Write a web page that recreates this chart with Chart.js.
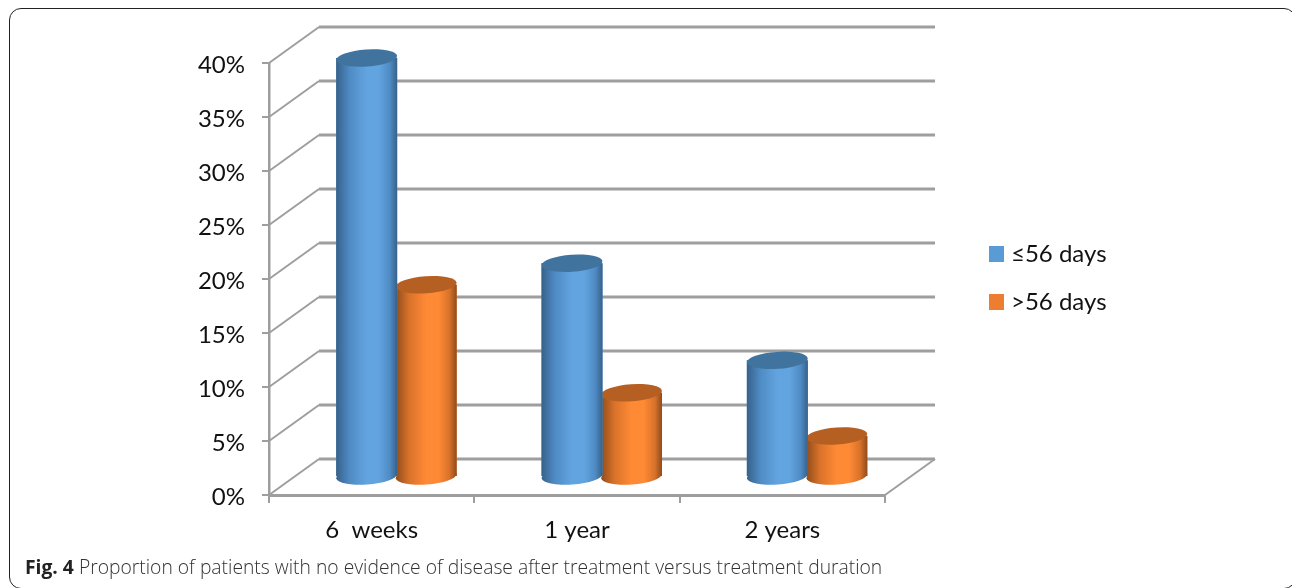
<!DOCTYPE html>
<html lang="en">
<head>
<meta charset="UTF-8">
<title>Fig. 4</title>
<script src="https://cdn.jsdelivr.net/npm/chart.js"></script>
<style>
    html, body { margin: 0; padding: 0; background: #fff; overflow: hidden; }
    #wrap { position: relative; width: 1292px; height: 588px; overflow: hidden; }
    #frame { position: absolute; left: 9px; top: 8px; width: 1287px; height: 581px; border: 1.5px solid #222; border-radius: 12px; box-sizing: border-box; }
    #caption { position: absolute; left: 25px; top: 553px; font: 300 19.3px "Open Sans", sans-serif; color: #333; white-space: nowrap; }
    #caption b { font-weight: 700; color: #222; }
    .legend-item { position: absolute; left: 989px; font: 24px Lato, sans-serif; color: #111; white-space: nowrap; }
    .legend-item i { position: absolute; left: 0; top: 8px; width: 15px; height: 16px; }
    .legend-item span { position: absolute; left: 22px; top: 0; line-height: 30px; }
    canvas { position: absolute; left: 0; top: 0; }
</style>
</head>
<body>
<div id="wrap">
    <canvas id="chart" width="1292" height="588"></canvas>
    <div id="frame"></div>
    <div id="legend"></div>
    <div id="caption"><b>Fig. 4</b> Proportion of patients with no evidence of disease after treatment versus treatment duration</div>
</div>
<script>
    const categories = ['6  weeks', '1 year', '2 years'];
    const shortCourse = [38.8, 19.8, 10.8];
    const longCourse = [17.8, 7.8, 3.8];
    const seriesNames = ['≤56 days', '>56 days'];
    const swatchColors = ['#5b9bd5', '#ed7d31'];
    // dark edge, mid ramp, highlight, cap colour for each series
    const shades = [
        ['#37618a', '#4f8bc4', '#62a4e0', '#41739f'],
        ['#8f4c1c', '#d9722a', '#ff8a35', '#b55f22']
    ];

    const gridColor = '#9e9e9e';
    const depthX = 50, depthY = -36;
    // the orange bars sit a little into the blue ones
    const barShift = [25.5, 24];

    // the 3D look: back wall, floor and side wall lines taken from the scales
    const wallPlugin = {
        id: 'walls',
        beforeDatasetsDraw(chart) {
            const ctx = chart.ctx;
            const { x: xs, y: ys } = chart.scales;
            ctx.save();
            ctx.strokeStyle = gridColor;
            ys.ticks.forEach(t => {
                const y = ys.getPixelForValue(t.value);
                ctx.lineWidth = 2;
                ctx.beginPath();
                ctx.moveTo(xs.left, y);
                ctx.lineTo(xs.left + depthX, y + depthY);
                ctx.stroke();
                ctx.lineWidth = 3;
                ctx.beginPath();
                ctx.moveTo(xs.left + depthX, y + depthY);
                ctx.lineTo(xs.right + depthX, y + depthY);
                ctx.stroke();
            });
            const y0 = ys.getPixelForValue(0);
            ctx.lineWidth = 2;
            ctx.beginPath();
            ctx.moveTo(xs.right, y0);
            ctx.lineTo(xs.right + depthX, y0 + depthY);
            ctx.stroke();
            ctx.restore();
        }
    };

    const cylinderPlugin = {
        id: 'cylinders',
        beforeDatasetDraw(chart, args) {
            chart.ctx.save();
            chart.ctx.translate(barShift[args.index], depthY / 2);
        },
        afterDatasetDraw(chart, args) {
            const ctx = chart.ctx;
            const s = shades[args.index];
            args.meta.data.forEach(bar => {
                const p = bar.getProps(['x', 'y', 'base', 'width']);
                const rx = p.width / 2, ry = 8.5, tilt = -0.07;
                const left = p.x - rx, right = p.x + rx;
                const g = ctx.createLinearGradient(left, 0, right, 0);
                g.addColorStop(0, s[0]);
                g.addColorStop(0.22, s[1]);
                g.addColorStop(0.5, s[2]);
                g.addColorStop(0.7, s[2]);
                g.addColorStop(0.88, s[1]);
                g.addColorStop(1, s[0]);
                ctx.fillStyle = g;
                ctx.fillRect(left, p.y, p.width, p.base - p.y);
                ctx.beginPath();
                ctx.ellipse(p.x, p.base, rx, ry, tilt, 0, Math.PI * 2);
                ctx.fill();
                ctx.fillStyle = s[3];
                ctx.beginPath();
                ctx.ellipse(p.x, p.y, rx, ry, tilt, 0, Math.PI * 2);
                ctx.fill();
            });
            ctx.restore();
        }
    };

    new Chart(document.getElementById('chart'), {
        type: 'bar',
        data: {
            labels: categories,
            datasets: [
                { label: seriesNames[0], data: shortCourse, backgroundColor: swatchColors[0] },
                { label: seriesNames[1], data: longCourse, backgroundColor: swatchColors[1] }
            ]
        },
        options: {
            responsive: false,
            animation: false,
            events: [],
            barPercentage: 1,
            categoryPercentage: 0.594,
            layout: { padding: { left: 0, top: 63, right: 407, bottom: 33 } },
            plugins: { legend: { display: false }, tooltip: { enabled: false } },
            scales: {
                x: {
                    afterFit: s => { s.height = 60; },
                    grid: { drawOnChartArea: false, color: gridColor, lineWidth: 2, tickLength: 8 },
                    border: { color: gridColor, width: 3 },
                    ticks: { color: '#111', font: { family: 'Lato', size: 24 }, padding: 13 }
                },
                y: {
                    min: 0,
                    max: 40,
                    afterFit: s => { s.width = 269; },
                    grid: { drawOnChartArea: false, color: gridColor, lineWidth: 2, tickLength: 7 },
                    border: { color: gridColor, width: 2.5 },
                    ticks: {
                        stepSize: 5,
                        color: '#111',
                        font: { family: 'Lato', size: 24 },
                        padding: 17,
                        labelOffset: 2,
                        callback: v => v + '%'
                    }
                }
            }
        },
        plugins: [wallPlugin, cylinderPlugin]
    });

    const legend = document.getElementById('legend');
    seriesNames.forEach((name, i) => {
        const item = document.createElement('div');
        item.className = 'legend-item';
        item.style.top = (238 + i * 48) + 'px';
        item.innerHTML = '<i style="background:' + swatchColors[i] + '"></i><span>' + name.replace('>', '&gt;') + '</span>';
        legend.appendChild(item);
    });
</script>
</body>
</html>
